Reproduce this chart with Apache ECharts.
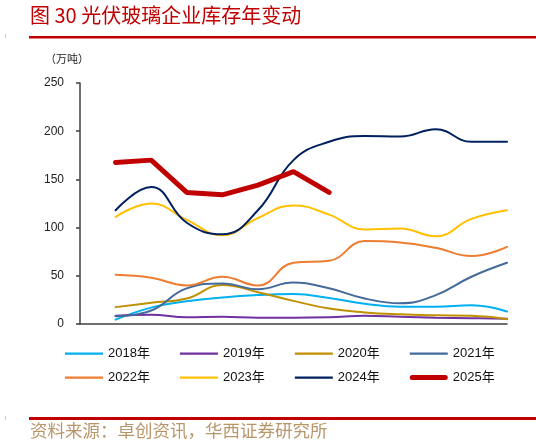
<!DOCTYPE html>
<html>
<head>
<meta charset="utf-8">
<script src="https://cdn.jsdelivr.net/npm/echarts@6/dist/echarts.min.js"></script>
<style>
html,body{margin:0;padding:0;background:#fff;}
#c{width:536px;height:444px;}
</style>
</head>
<body>
<div id="c"></div>
<script>
var months = [1,2,3,4,5,6,7,8,9,10,11,12];
var yTicks = [0,50,100,150,200,250];
var names = ['2018年','2019年','2020年','2021年','2022年','2023年','2024年','2025年'];
var v2018 = [4.5, 17, 23.5, 27.5, 30, 31, 27, 21, 18, 18, 19.5, 13];
var v2019 = [8.5, 9.5, 7, 7.5, 6.5, 6.5, 7, 8.5, 7.5, 6.5, 6, 5.5];
var v2020 = [17.5, 22, 26.5, 40.5, 33, 24, 16, 12, 10, 9, 8.5, 5];
var v2021 = [8, 14, 37, 42, 36, 43, 37, 26.5, 21.5, 30, 49, 63.5];
var v2022 = [51, 48, 40, 49, 40, 63.5, 65.5, 86, 84.5, 79, 70.5, 80];
var v2023 = [111, 125, 108, 92, 110, 123, 113.5, 98, 99, 91, 109, 118];
var v2024 = [118, 142, 105, 93, 118, 170, 189, 195, 194.5, 202, 189, 189];
var v2025 = [167.5, 170, 136.5, 134, 144, 158, 136.5];

var colors = ['#00B0F0','#7030A0','#BF9000','#44699B','#ED7D31','#FFC000','#002060','#C00000'];
var allVals = [v2018,v2019,v2020,v2021,v2022,v2023,v2024,v2025];

function pairs(vals){ return vals.map(function(v,i){ return [months[i], v]; }); }

var series = names.map(function(n, k){
  var last = (k === 7);
  return {
    name: n,
    type: 'line',
    data: pairs(allVals[k]),
    smooth: last ? false : 0.45,
    symbol: 'none',
    z: last ? 10 : 2 + k,
    lineStyle: { color: colors[k], width: last ? 5 : 2, cap: 'round' },
    itemStyle: { color: colors[k] }
  };
});

var thinIcon = 'path://M0,5 L38,5 L38,7.2 L0,7.2 Z M0,0 L0.01,0 M0,12 L0.01,12';
var thickIcon = 'path://M2.5,3.5 L35.5,3.5 A2.5,2.5 0 0 1 35.5,8.5 L2.5,8.5 A2.5,2.5 0 0 1 2.5,3.5 Z M0,0 L0.01,0 M0,12 L0.01,12';

function legendCfg(top, list){
  return {
    left: 60,
    top: top,
    orient: 'horizontal',
    itemWidth: 38,
    itemHeight: 12,
    itemGap: 30,
    selectedMode: false,
    textStyle: { fontSize: 13, color: '#111', fontFamily: 'Liberation Sans, Arial, Noto Sans CJK SC' },
    data: list.map(function(n){ return { name: n, icon: n === '2025年' ? thickIcon : thinIcon }; })
  };
}

var chart = echarts.init(document.getElementById('c'), null, {renderer:'canvas'});
var option = {
  animation: false,
  backgroundColor: '#fff',
  grid: { left: 80, right: 29, top: 83, bottom: 120, containLabel: false },
  xAxis: {
    type: 'value', min: 0, max: 12, interval: 1,
    axisLine: { show: true, lineStyle: { color: '#404040', width: 1.5 } },
    axisTick: { show: false },
    axisLabel: { show: false },
    splitLine: { show: false }
  },
  yAxis: {
    type: 'value', min: yTicks[0], max: yTicks[yTicks.length-1], interval: 50,
    axisLine: { show: true, lineStyle: { color: '#404040', width: 1.5 } },
    axisTick: { show: true, length: 4, lineStyle: { color: '#404040', width: 1.5 } },
    axisLabel: { margin: 16, fontSize: 12, color: '#222', fontFamily: 'Liberation Sans, Arial, sans-serif' },
    splitLine: { show: false }
  },
  legend: [
    legendCfg(342, names.slice(0,4)),
    legendCfg(366, names.slice(4))
  ],
  graphic: [
    { type: 'text', left: 30, top: 5, style: { text: '图 30 光伏玻璃企业库存年变动', fill: '#C00000', font: '20px "Noto Sans CJK SC"' } },
    { type: 'rect', left: 29, top: 36, shape: { width: 507, height: 2.5 }, style: { fill: '#C00000' } },
    { type: 'rect', left: 5, top: 34, shape: { width: 1, height: 4 }, style: { fill: '#d8c8c8' } },
    { type: 'text', left: 45, top: 53, style: { text: '（万吨）', fill: '#222', font: '11px "Noto Sans CJK SC"' } },
    { type: 'rect', left: 29, top: 417, shape: { width: 507, height: 3 }, style: { fill: '#C00000' } },
    { type: 'rect', left: 5, top: 416, shape: { width: 1, height: 4 }, style: { fill: '#e0c8c8' } },
    { type: 'text', left: 30, top: 422, style: { text: '资料来源：卓创资讯，华西证券研究所', fill: '#B8966B', font: '17.5px "Noto Sans CJK SC"' } }
  ],
  series: series
};
chart.setOption(option);
</script>
</body>
</html>
